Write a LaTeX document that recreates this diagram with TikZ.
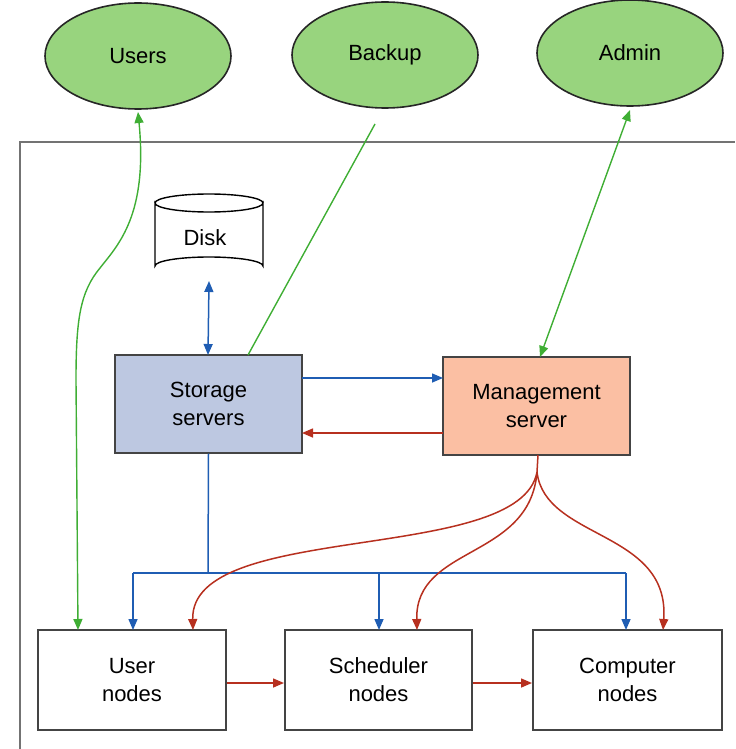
\documentclass[tikz,border=0pt]{standalone}
\usepackage{fontspec}
\setmainfont{Liberation Sans}
\usetikzlibrary{arrows.meta,shapes.geometric}
\definecolor{gfill}{HTML}{98D47E}
\definecolor{gline}{HTML}{3FAE34}
\definecolor{bline}{HTML}{1F5DB3}
\definecolor{rline}{HTML}{B7301F}
\definecolor{sfill}{HTML}{BDC8E1}
\definecolor{mfill}{HTML}{FBBFA3}
\definecolor{bord}{HTML}{444444}
\begin{document}
\begin{tikzpicture}[x=0.5pt,y=-0.5pt,
  font=\fontsize{11}{14}\selectfont,
  oval/.style={ellipse,draw=black!85,line width=0.8pt,fill=gfill,minimum width=93pt,minimum height=53pt,inner sep=0pt},
  box/.style={rectangle,draw=bord,line width=1pt,minimum width=93.5pt,minimum height=49pt,align=center,inner sep=0pt},
  tip/.style={-{Triangle[length=5.5pt,width=4.5pt]}},
  tips/.style={{Triangle[length=5.5pt,width=4.5pt]}-{Triangle[length=5.5pt,width=4.5pt]}},
  gconn/.style={gline,line width=0.7pt},
  bconn/.style={bline,line width=0.75pt},
  rconn/.style={rline,line width=0.75pt}]
\useasboundingbox (0,0) rectangle (735,749);
% frame
\draw[black!55,line width=0.8pt] (20,749) -- (20,142) -- (735,142);
% ellipses
\node[oval] (users) at (138,56) {Users};
\node[oval] (backup) at (385,55) {Backup};
\node[oval] (admin) at (630,53) {Admin};
% disk
\node[minimum width=54pt,minimum height=32pt,inner sep=0pt] (disk) at (209,236) {};
\filldraw[fill=white,draw=black,line width=0.7pt] (155,203) -- (155,266) arc[start angle=180,end angle=360,x radius=54,y radius=9] -- (263,203) arc[start angle=0,end angle=180,x radius=54,y radius=9] -- cycle;
\draw[black,line width=0.7pt] (155,203) arc[start angle=180,end angle=360,x radius=54,y radius=9];
\node at (205,238) {Disk};
\coordinate (diskb) at (209,281);
% servers
\node[box,fill=sfill] (stor) at (208.5,403.5) {Storage\\servers};
\node[box,fill=mfill] (mgmt) at (536.5,406) {Management\\server};
% bottom boxes
\node[box,fill=white,minimum width=94pt,minimum height=50pt] (user) at (132,680) {User\\nodes};
\node[box,fill=white,minimum width=93.5pt,minimum height=50pt] (sched) at (378.5,680) {Scheduler\\nodes};
\node[box,fill=white,minimum width=94.5pt,minimum height=50pt] (comp) at (627.5,680) {Computer\\nodes};
% coordinates
\coordinate (ub) at (138,112);
\coordinate (bk) at (375,124);
\coordinate (ab) at (630,110);
\coordinate (split) at (537,472);
\coordinate (bus) at (208,573);
% green connectors
\draw[gconn,tips] (ub) .. controls (148,215) and (118,245) .. (100,268) .. controls (80,292) and (76,320) .. (76,380) -- (78,630);
\draw[gconn] (bk) -- (248,355);
\draw[gconn,tips] (ab) -- (540,357);
% disk-storage
\draw[bconn,tips] (diskb) -- (208,355);
% storage <-> management
\draw[bconn,tip] (302,378) -- (443,378);
\draw[rconn,tip] (443,433) -- (302,433);
% blue bus
\draw[bconn] (stor.south) -- (bus);
\draw[bconn] (133,573) -- (626,573);
\draw[bconn,tip] (133,573) -- (133,630);
\draw[bconn,tip] (379,573) -- (379,630);
\draw[bconn,tip] (626,573) -- (626,630);
% red fan
\draw[rconn] (538,455) -- (split);
\draw[rconn,tip] (split) .. controls (520,565) and (190,520) .. (193,630);
\draw[rconn,tip] (split) .. controls (530,560) and (415,545) .. (417,630);
\draw[rconn,tip] (split) .. controls (545,540) and (670,530) .. (663,630);
% bottom chain
\draw[rconn,tip] (user.east |- 0,683) -- (sched.west |- 0,683);
\draw[rconn,tip] (sched.east |- 0,683) -- (comp.west |- 0,683);
\end{tikzpicture}
\end{document}
